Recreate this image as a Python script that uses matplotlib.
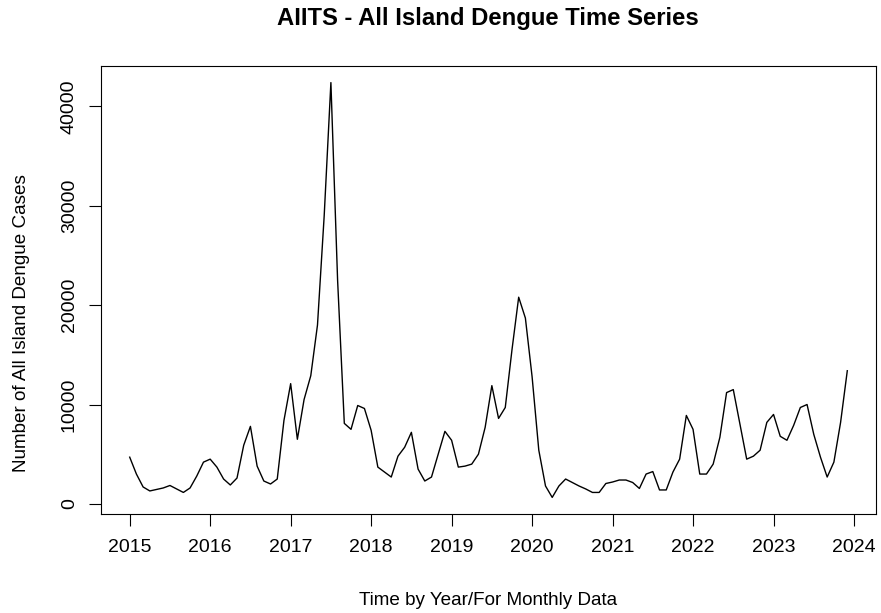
import matplotlib
matplotlib.use("Agg")
import matplotlib.pyplot as plt
import numpy as np

plt.rcParams['font.family'] = ['Liberation Sans', 'DejaVu Sans']

# monthly all-island dengue cases, Jan 2015 .. Dec 2023
cases_2015 = [4700, 3000, 1700, 1300, 1450, 1600, 1850, 1500, 1150, 1600, 2800, 4200]
cases_2016 = [4500, 3700, 2500, 1900, 2600, 5900, 7800, 3800, 2300, 2000, 2500, 8400]
cases_2017 = [12100, 6500, 10500, 12900, 18000, 29000, 42400, 22500, 8100, 7500, 9900, 9600]
cases_2018 = [7400, 3700, 3200, 2700, 4800, 5700, 7200, 3500, 2300, 2700, 5000, 7300]
cases_2019 = [6400, 3700, 3800, 4000, 5000, 7700, 11900, 8600, 9700, 15500, 20800, 18700]
cases_2020 = [12800, 5400, 1800, 650, 1800, 2500, 2150, 1800, 1500, 1150, 1150, 2050]
cases_2021 = [2200, 2400, 2400, 2150, 1550, 3000, 3250, 1400, 1400, 3200, 4500, 8900]
cases_2022 = [7500, 3000, 3000, 4000, 6700, 11200, 11500, 8000, 4500, 4800, 5400, 8200]
cases_2023 = [9000, 6800, 6400, 7900, 9700, 10000, 7000, 4700, 2700, 4200, 8200, 13400]

start_year = 2015
year_ticks = list(range(2015, 2025))
y_ticks = [0, 10000, 20000, 30000, 40000]

cases = (cases_2015 + cases_2016 + cases_2017 + cases_2018 + cases_2019
         + cases_2020 + cases_2021 + cases_2022 + cases_2023)
t = start_year + np.arange(len(cases)) / 12.0

fig = plt.figure(figsize=(8.81, 6.13), dpi=100)
ax = fig.add_axes([101 / 881, 1 - 514 / 613, 775 / 881, 448 / 613])

ax.plot(t, cases, color='black', lw=1.0)

# R-style 4% padding
xr = t[-1] - t[0]
ax.set_xlim(t[0] - 0.04 * xr, t[-1] + 0.04 * xr)
yr = max(cases) - min(cases)
ax.set_ylim(min(cases) - 0.04 * yr, max(cases) + 0.04 * yr)

ax.set_xticks(year_ticks)
ax.set_yticks(y_ticks)
ax.tick_params(axis='both', direction='out', length=8.6, width=0.8,
               labelsize=14, colors='black')
ax.tick_params(axis='x', pad=9.5)
ax.tick_params(axis='y', pad=8, labelrotation=90)
for lab in ax.get_yticklabels():
    lab.set_verticalalignment('center')

for s in ax.spines.values():
    s.set_linewidth(0.8)
    s.set_color('black')

fig.text(488 / 881, 1 - 25 / 613, 'AIITS - All Island Dengue Time Series',
         ha='center', va='baseline', fontsize=17.2, fontweight='bold')
fig.text(488 / 881, 1 - 605 / 613, 'Time by Year/For Monthly Data',
         ha='center', va='baseline', fontsize=13.6)
fig.text(21.5 / 881, 290 / 613, 'Number of All Island Dengue Cases',
         ha='center', va='center', rotation=90, fontsize=13.6)

fig.savefig('out.png', dpi=100)
